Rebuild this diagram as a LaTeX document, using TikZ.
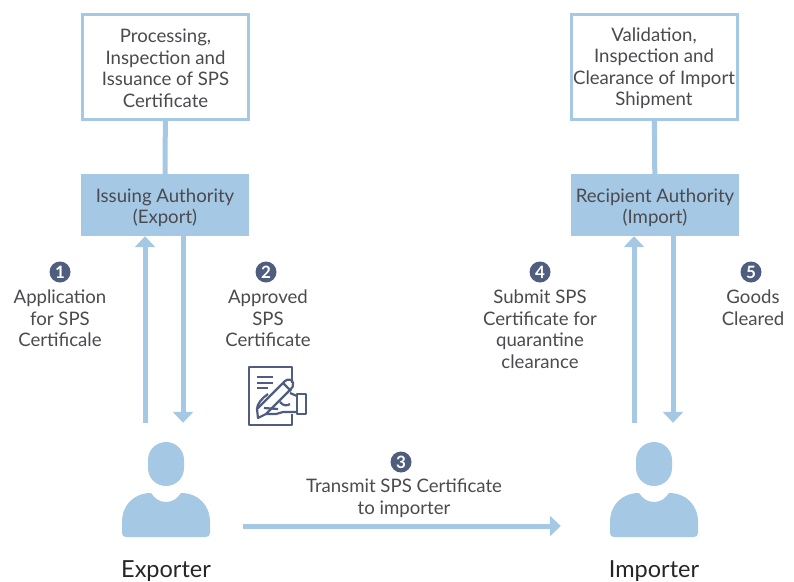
\documentclass[tikz,border=0pt]{standalone}
\usepackage{fontspec}
\setmainfont{Lato}
\usetikzlibrary{arrows.meta}
\definecolor{blu}{HTML}{A5C8E4}
\definecolor{ink}{HTML}{4A4A4F}
\definecolor{nav}{HTML}{4F5D7F}
\newcommand{\downA}{\rule{0pt}{17pt}}
\newcommand{\downB}{\rule{0pt}{19pt}}
\tikzset{
 x=1pt,y=-1pt,
 txt/.style={text=ink,font=\fontsize{18.6}{21.5}\selectfont,align=center,inner sep=0pt},
 topbox/.style={draw=blu,line width=3pt,fill=white,minimum width=166pt,minimum height=105pt,txt},
 authbox/.style={fill=blu,minimum width=168pt,minimum height=62pt,txt},
 stem/.style={draw=blu,line width=5pt},
 arr/.style={draw=blu,line width=5pt,-{Triangle[length=11pt,width=20pt]}},
 badge/.style={circle,fill=nav,text=white,minimum size=21pt,inner sep=0pt,font=\fontsize{17}{17}\selectfont\bfseries},
 who/.style={text=black!85,font=\fontsize{23.5}{26}\selectfont,inner sep=0pt},
 slot/.style={minimum width=88pt,minimum height=114pt,inner sep=0pt},
 icon/.style={draw=nav,line width=2.2pt,line join=round},
 person/.pic={
  \fill[blu] (-18,-40) .. controls (-18,-50) and (-10,-58) .. (0,-58) .. controls (10,-58) and (18,-50) .. (18,-40) -- (18,-32) .. controls (18,-22) and (10,-14) .. (0,-14) .. controls (-10,-14) and (-18,-22) .. (-18,-32) -- cycle;
  \fill[blu] (-44,33) -- (-44,22) .. controls (-44,5) and (-32,-7) .. (-15,-7) .. controls (-11,-1) and (-6,2) .. (0,2) .. controls (6,2) and (11,-1) .. (15,-7) .. controls (32,-7) and (44,5) .. (44,22) -- (44,33) .. controls (44,35.5) and (42.5,37) .. (40,37) -- (-40,37) .. controls (-42.5,37) and (-44,35.5) .. (-44,33) -- cycle;
 }
}
\begin{document}
\begin{tikzpicture}
\useasboundingbox (0,0) rectangle (794,581);
% boxes
\node[topbox] (proc) at (165.5,66.5) {\downA Processing,\\Inspection and\\Issuance of SPS\\Certificate};
\node[topbox] (valid) at (654,66.5) {\downA Validation,\\Inspection and\\Clearance of Import\\Shipment};
\node[authbox] (issuing) at (165,205) {\downB Issuing Authority\\(Export)};
\node[authbox] (recip) at (655,205) {\downB Recipient Authority\\(Import)};
\draw[stem] (proc) -- (issuing);
\draw[stem] (valid) -- (recip);
% people
\node[slot] (exporter) at (166,480) {};
\node[slot] (importer) at (654,480) {};
\pic at (166,500) {person};
\pic at (654,500) {person};
\node[who] (expl) at (166,571) {Exporter};
\node[who] (impl) at (654,571) {Importer};
% arrows
\draw[arr] ([xshift=-21pt]exporter.north) -- ([xshift=-20pt]issuing.south);
\draw[arr] ([xshift=18pt]issuing.south) -- ([xshift=17pt]exporter.north);
\draw[arr] ([xshift=-20pt]importer.north) -- ([xshift=-21pt]recip.south);
\draw[arr] ([xshift=18pt]recip.south) -- ([xshift=19pt]importer.north);
\draw[arr] ([xshift=33pt,yshift=-46pt]exporter.east) -- ([xshift=-49pt,yshift=-46pt]importer.west);
% badges & labels
\node[badge] (b1) at (60,272) {1};
\node[txt,anchor=north] (l1) at (60,290) {Application\\for SPS\\Certificale};
\node[badge] (b2) at (266,272) {2};
\node[txt,anchor=north] (l2) at (268,290) {Approved\\SPS\\Certificate};
\node[badge] (b4) at (540,272) {4};
\node[txt,anchor=north] (l4) at (540,290) {Submit SPS\\Certificate for\\quarantine\\clearance};
\node[badge] (b5) at (751,272) {5};
\node[txt,anchor=north] (l5) at (753,290) {Goods\\Cleared};
\node[badge] (b3) at (401,462) {3};
\node[txt,anchor=north] (l3) at (404,479) {Transmit SPS Certificate\\to importer};
% certificate icon
\draw[icon] (292,383) -- (292,367) -- (249,367) -- (249,425) -- (292,425) -- (292,414);
\draw[icon] (257,377) -- (273,377) (257,383) -- (273,383) (257,388) -- (268,388);
\draw[icon] (297,394) rectangle (306,414);
\draw[icon] (258,418) -- (257,409) -- (285,381) .. controls (288,378) and (293,380) .. (293,383) .. controls (294,386) and (292,388) .. (290,390) -- (266,414) -- cycle;
\draw[icon] (283,383) -- (291,391);
\draw[icon] (268,394) .. controls (262,398) and (257,404) .. (257,409);
\draw[icon] (290,393) -- (297,396) (297,412) -- (283,412) -- (276,414) -- (266,414);
\draw[icon] (280,402) .. controls (283,406) and (287,406) .. (290,404) (264,408) -- (278,409);
\end{tikzpicture}
\end{document}
